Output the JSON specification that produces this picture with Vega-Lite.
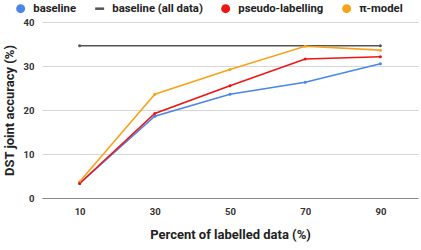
{
  "$schema": "https://vega.github.io/schema/vega-lite/v6.json",
  "width": 376,
  "height": 176,
  "autosize": {"type": "none"},
  "padding": {"left": 42, "top": 22, "right": 3, "bottom": 52},
  "background": "white",
  "config": {
    "font": "Roboto",
    "view": {"stroke": null},
    "axis": {
      "labelFont": "Roboto",
      "labelFontWeight": "bold",
      "labelFontSize": 9.5,
      "labelColor": "#333333",
      "titleFont": "Roboto",
      "titleFontWeight": "bold",
      "titleFontSize": 13,
      "titleColor": "#222222",
      "ticks": false
    }
  },
  "data": {
    "values": [
      {"series": "baseline (all data)", "pct": 10, "acc": 34.6},
      {"series": "baseline (all data)", "pct": 90, "acc": 34.6},
      {"series": "π-model", "pct": 10, "acc": 3.7},
      {"series": "π-model", "pct": 30, "acc": 23.6},
      {"series": "π-model", "pct": 50, "acc": 29.2},
      {"series": "π-model", "pct": 70, "acc": 34.5},
      {"series": "π-model", "pct": 90, "acc": 33.6},
      {"series": "baseline", "pct": 10, "acc": 3.3},
      {"series": "baseline", "pct": 30, "acc": 18.6},
      {"series": "baseline", "pct": 50, "acc": 23.6},
      {"series": "baseline", "pct": 70, "acc": 26.3},
      {"series": "baseline", "pct": 90, "acc": 30.5},
      {"series": "pseudo-labelling", "pct": 10, "acc": 3.3},
      {"series": "pseudo-labelling", "pct": 30, "acc": 19.2},
      {"series": "pseudo-labelling", "pct": 50, "acc": 25.5},
      {"series": "pseudo-labelling", "pct": 70, "acc": 31.6},
      {"series": "pseudo-labelling", "pct": 90, "acc": 32.1}
    ]
  },
  "encoding": {
    "x": {
      "field": "pct",
      "type": "ordinal",
      "scale": {"type": "point", "padding": 0.5},
      "axis": {
        "title": "Percent of labelled data (%)",
        "labelAngle": 0,
        "labelPadding": 8,
        "titlePadding": 13,
        "domainColor": "#888888",
        "domainWidth": 1,
        "grid": false
      }
    },
    "y": {
      "field": "acc",
      "type": "quantitative",
      "scale": {"domain": [0, 40]},
      "axis": {
        "title": "DST joint accuracy (%)",
        "values": [0, 10, 20, 30, 40],
        "labelPadding": 8,
        "titlePadding": 7,
        "domain": false,
        "grid": true,
        "gridColor": "#d6d6d6",
        "gridWidth": 1
      }
    },
    "color": {
      "field": "series",
      "type": "nominal",
      "scale": {
        "domain": ["baseline", "baseline (all data)", "pseudo-labelling", "π-model"],
        "range": ["#4a86e8", "#555555", "#ee1515", "#f8a21c"]
      },
      "legend": {
        "title": null,
        "orient": "none",
        "direction": "horizontal",
        "legendX": -27,
        "legendY": -19,
        "labelFont": "Roboto",
        "labelFontWeight": "bold",
        "labelFontSize": 11.3,
        "labelColor": "#222222",
        "symbolSize": 80,
        "columnPadding": 17,
        "labelOffset": 7,
        "encode": {
          "symbols": {
            "update": {
              "shape": {"signal": "datum.value === 'baseline (all data)' ? 'M-1,-0.28H1V0.28H-1Z' : 'circle'"},
              "fill": {"signal": "datum.value === 'baseline (all data)' ? '#111111' : scale('color', datum.value)"},
              "stroke": {"value": "transparent"},
              "strokeWidth": {"value": 0}
            }
          }
        }
      }
    }
  },
  "layer": [
    {"mark": {"type": "line", "strokeWidth": 1.6}},
    {"mark": {"type": "point", "filled": true, "size": 9, "opacity": 1}}
  ]
}
